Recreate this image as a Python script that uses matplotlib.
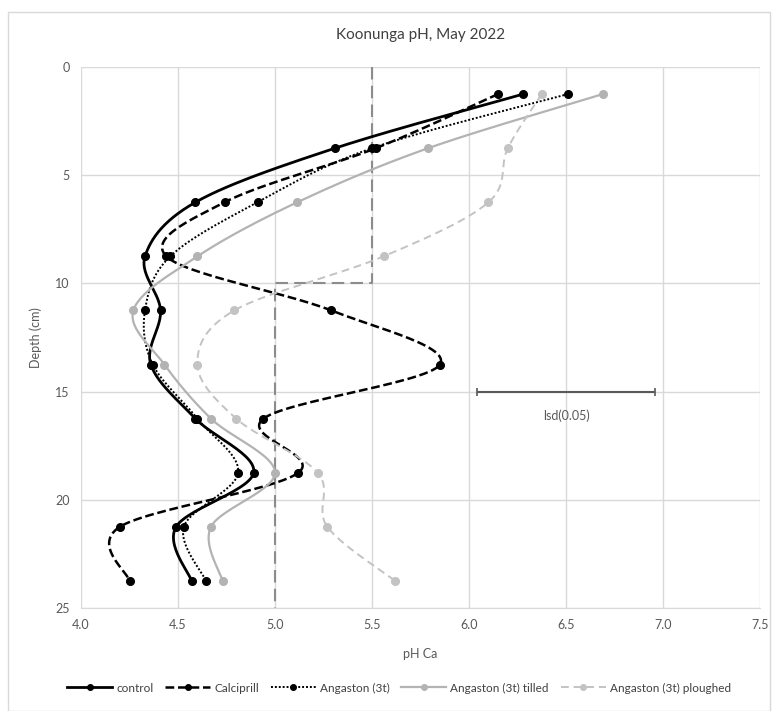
import numpy as np
import matplotlib
matplotlib.use("Agg")
import matplotlib.pyplot as plt
from matplotlib.patches import Rectangle
from matplotlib.lines import Line2D

# ---------------- data ----------------
depth = [1.25, 3.75, 6.25, 8.75, 11.25, 13.75, 16.25, 18.75, 21.25, 23.75]
control = [6.28, 5.31, 4.59, 4.33, 4.41, 4.36, 4.59, 4.89, 4.49, 4.57]
calciprill = [6.15, 5.52, 4.74, 4.44, 5.29, 5.85, 4.94, 5.12, 4.20, 4.25]
angaston = [6.51, 5.50, 4.91, 4.46, 4.33, 4.37, 4.60, 4.81, 4.53, 4.645]
tilled = [6.69, 5.79, 5.115, 4.60, 4.27, 4.43, 4.67, 5.00, 4.67, 4.73]
ploughed = [6.375, 6.20, 6.10, 5.56, 4.79, 4.60, 4.80, 5.22, 5.27, 5.62]

threshold_x = [5.5, 5.5, 5.0, 5.0]
threshold_y = [0, 10, 10, 25]

lsd_x = [6.04, 6.96]
lsd_y = 15
lsd_label = "lsd(0.05)"

series_names = ["control", "Calciprill", "Angaston (3t)", "Angaston (3t) tilled",
                "Angaston (3t) ploughed"]

xticks = [4.0, 4.5, 5.0, 5.5, 6.0, 6.5, 7.0, 7.5]
yticks = [0, 5, 10, 15, 20, 25]

# ---------------- figure ----------------
plt.rcParams['font.family'] = ['Lato', 'DejaVu Sans']
W, H = 774, 711
fig = plt.figure(figsize=(W / 100, H / 100), dpi=100)
fig.patches.append(Rectangle((8 / W, 0), (770 - 8) / W, (H - 12) / H,
                             transform=fig.transFigure, fill=False,
                             edgecolor='#d9d9d9', linewidth=1.0))

ax = fig.add_axes([81 / W, 1 - 608 / H, (760 - 81) / W, (608 - 67) / H])
ax.set_xlim(4.0, 7.5)
ax.set_ylim(25, 0)
ax.set_xticks(xticks)
ax.set_xticklabels([f"{v:.1f}" for v in xticks])
ax.set_yticks(yticks)
ax.grid(True, color='#d9d9d9', linewidth=1.0)
ax.set_axisbelow(True)
for s in ['top', 'right', 'left']:
    ax.spines[s].set_visible(False)
ax.spines['bottom'].set_color('#d9d9d9')
ax.tick_params(length=0, labelsize=9, colors='#595959', pad=8)
ax.set_xlabel("pH Ca", fontsize=9, color='#595959', labelpad=12)
ax.set_ylabel("Depth (cm)", fontsize=9, color='#595959', labelpad=10)
ax.set_title("Koonunga pH, May 2022", fontsize=11, color='#404040', pad=20)


def smooth(xs, ys, n=30):
    """Excel-like Catmull-Rom/Bezier smoothing computed in display space."""
    pts = ax.transData.transform(np.column_stack([xs, ys]))
    out = [pts[0]]
    m = len(pts)
    for i in range(m - 1):
        p0 = pts[max(i - 1, 0)]
        p1 = pts[i]
        p2 = pts[i + 1]
        p3 = pts[min(i + 2, m - 1)]
        c1 = p1 + (p2 - p0) / 6.0
        c2 = p2 - (p3 - p1) / 6.0
        t = np.linspace(0, 1, n)[1:, None]
        seg = ((1 - t) ** 3) * p1 + 3 * ((1 - t) ** 2) * t * c1 + \
            3 * (1 - t) * t ** 2 * c2 + t ** 3 * p2
        out.extend(seg)
    out = np.array(out)
    d = ax.transData.inverted().transform(out)
    return d[:, 0], d[:, 1]


styles = [
    dict(color='black', lw=2.0, ls='-', mc='black'),
    dict(color='black', lw=1.8, ls=(0, (3.5, 1.5)), mc='black'),
    dict(color='black', lw=1.4, ls=(0, (1, 1)), mc='black'),
    dict(color='#b3b3b3', lw=1.6, ls='-', mc='#b3b3b3'),
    dict(color='#c3c3c3', lw=1.4, ls=(0, (4, 2.5)), mc='#c3c3c3'),
]
all_series = [control, calciprill, angaston, tilled, ploughed]

# threshold dashed line
ax.plot(threshold_x, threshold_y, color='#8c8c8c', lw=1.5,
        ls=(0, (6, 3)), zorder=2)

handles = []
for vals, st, name in zip(all_series, styles, series_names):
    sx, sy = smooth(vals, depth)
    ax.plot(sx, sy, color=st['color'], lw=st['lw'], ls=st['ls'], zorder=3)
    ax.plot(vals, depth, ls='none', marker='o', ms=5.5, color=st['mc'], zorder=4)
    handles.append(Line2D([], [], color=st['color'], lw=st['lw'], ls=st['ls'],
                          marker='o', ms=4, markerfacecolor=st['mc'],
                          markeredgecolor=st['mc']))

# lsd bar
ax.errorbar([np.mean(lsd_x)], [lsd_y], xerr=[[np.mean(lsd_x) - lsd_x[0]],
            [lsd_x[1] - np.mean(lsd_x)]], fmt='none', ecolor='#595959',
            elinewidth=1.5, capsize=3, capthick=1.2, zorder=5)
ax.text(np.mean(lsd_x), lsd_y + 1.1, lsd_label, ha='center', va='center',
        fontsize=9, color='#595959')

fig.legend(handles, series_names, loc='center',
           bbox_to_anchor=(399 / W, 1 - 688 / H),
           ncol=5, frameon=False, fontsize=8.5, handlelength=3.8,
           handletextpad=0.35, columnspacing=1.0, labelcolor='#404040')

fig.savefig("out.png", dpi=100)
